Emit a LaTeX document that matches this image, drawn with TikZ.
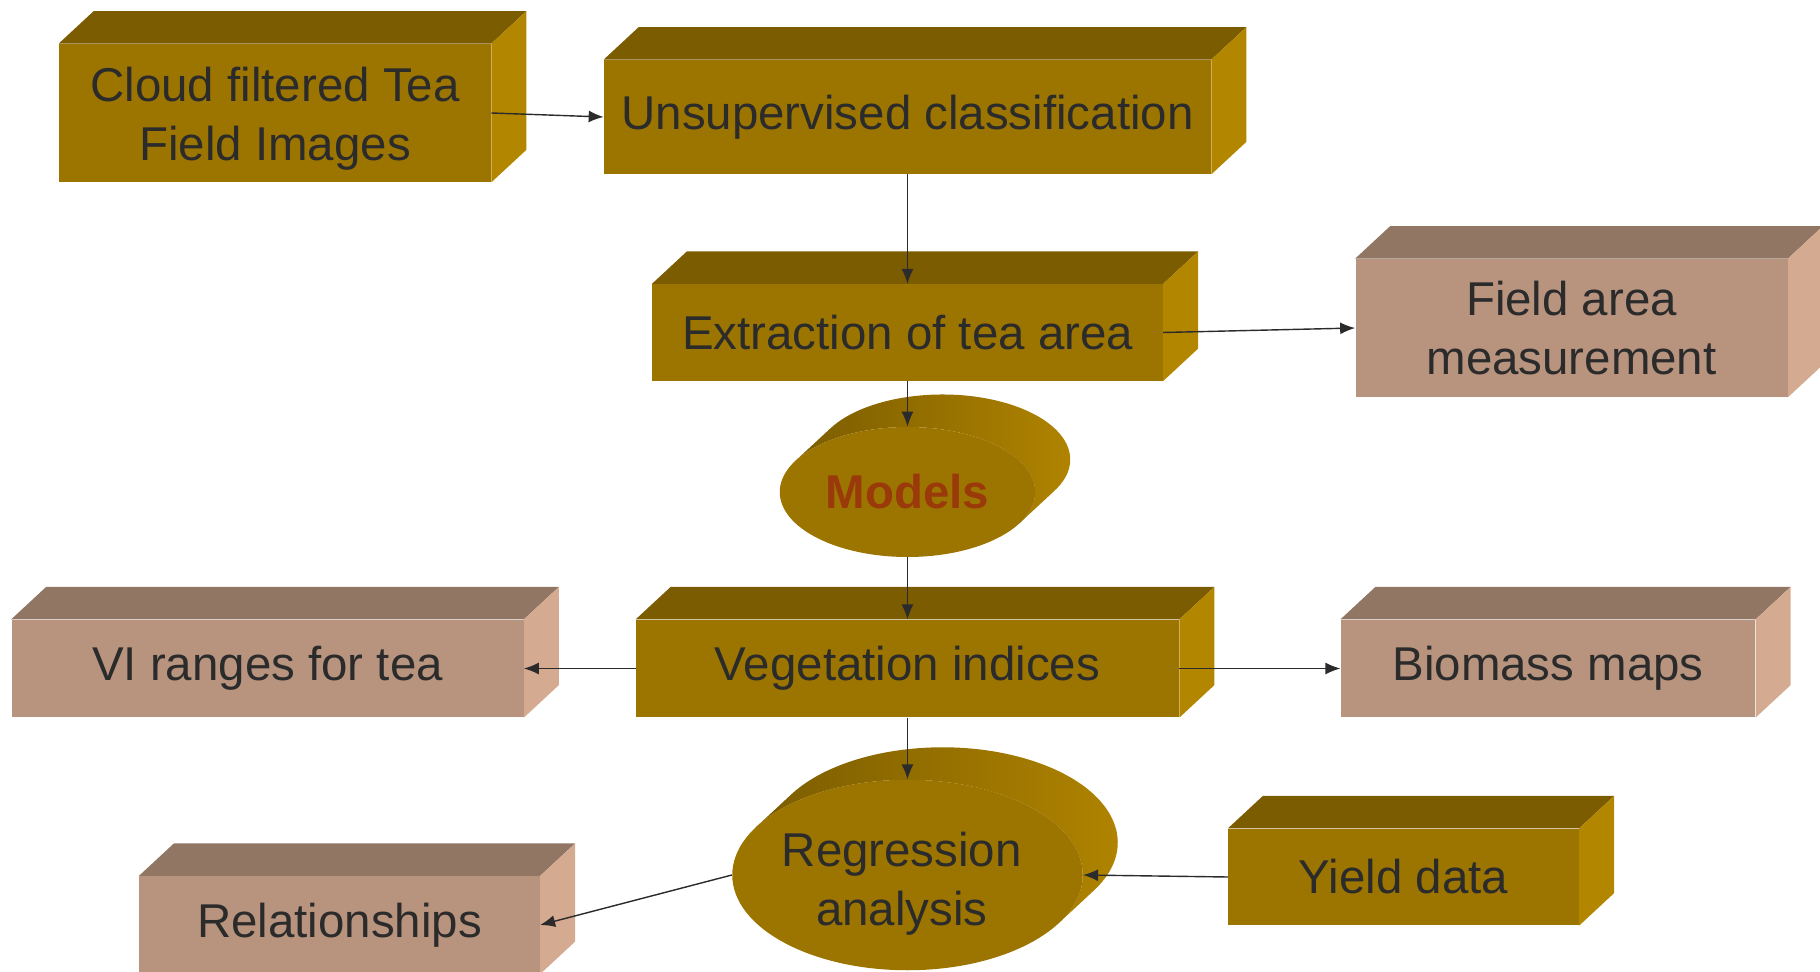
\documentclass[tikz,border=0pt]{standalone}
\usepackage{fontspec}
\setmainfont{Liberation Sans}
\usetikzlibrary{shapes.geometric,arrows.meta,backgrounds}

\definecolor{goldfront}{HTML}{9C7500}
\definecolor{goldtop}{HTML}{7B5C00}
\definecolor{goldside}{HTML}{B38600}
\definecolor{rosefront}{HTML}{B8947F}
\definecolor{rosetop}{HTML}{917664}
\definecolor{roseside}{HTML}{D4AA91}
\definecolor{txt}{HTML}{2B2B2B}
\definecolor{modeltxt}{HTML}{9A3A0A}

% two-line label, moved down and left, taking no width
\newcommand{\lowlines}[3]{\raisebox{-#1}[\height][\depth]{\makebox[0pt]{\hspace*{-#2}\begin{tabular}{@{}c@{}}#3\end{tabular}}}}

\tikzset{
	boxtext/.style={font=\fontsize{27}{33.6}\selectfont, text=txt, align=center, inner sep=0pt},
	goldbox/.style={boxtext, rectangle, fill=goldfront},
	rosebox/.style={boxtext, rectangle, fill=rosefront},
	goldoval/.style={boxtext, ellipse, fill=goldfront},
	link/.style={draw=txt, line width=0.8pt, -{Latex[length=3mm,width=2.4mm]}}
}

\begin{document}
\begin{tikzpicture}
	\useasboundingbox (0,0) rectangle (36.4,19.42);

	% boxes, front faces
	\node[goldbox, minimum width=8.64cm, minimum height=2.76cm] (cloud) at (5.50,17.16) {\lowlines{1.2mm}{0mm}{Cloud filtered Tea\\Field Images}};
	\node[goldbox, minimum width=12.14cm, minimum height=2.28cm] (unsup) at (18.15,17.08) {Unsupervised classification};
	\node[goldbox, minimum width=10.21cm, minimum height=1.93cm] (extract) at (18.15,12.77) {Extraction of tea area};
	\node[rosebox, minimum width=8.64cm, minimum height=2.76cm] (field) at (31.43,12.86) {Field area\\measurement};
	\node[goldoval, minimum width=5.11cm, minimum height=2.6cm] (models) at (18.15,9.58) {\bfseries\color{modeltxt}Models};
	\node[goldbox, minimum width=10.86cm, minimum height=1.95cm] (veg) at (18.15,6.05) {Vegetation indices};
	\node[rosebox, minimum width=10.24cm, minimum height=1.95cm] (vi) at (5.35,6.05) {VI ranges for tea};
	\node[rosebox, minimum width=8.29cm, minimum height=1.95cm] (biomass) at (30.96,6.05) {Biomass maps};
	\node[goldoval, minimum width=7.01cm, minimum height=3.81cm] (reg) at (18.15,1.92) {\lowlines{1.9mm}{2.3mm}{Regression\\analysis}};
	\node[goldbox, minimum width=7.01cm, minimum height=1.93cm] (yield) at (28.07,1.88) {Yield data};
	\node[rosebox, minimum width=8.01cm, minimum height=1.95cm] (rel) at (6.79,0.92) {Relationships};

	% top and side faces
	\begin{scope}[on background layer]
		\foreach \n in {cloud,unsup,extract,veg,yield} {
			\fill[goldtop] (\n.north west) -- ++(0.7,0.65) -- ([shift={(0.7,0.65)}]\n.north east) -- (\n.north east) -- cycle;
			\fill[goldside] (\n.north east) -- ++(0.7,0.65) -- ([shift={(0.7,0.65)}]\n.south east) -- (\n.south east) -- cycle;
		}
		\foreach \n in {field,vi,biomass,rel} {
			\fill[rosetop] (\n.north west) -- ++(0.7,0.65) -- ([shift={(0.7,0.65)}]\n.north east) -- (\n.north east) -- cycle;
			\fill[roseside] (\n.north east) -- ++(0.7,0.65) -- ([shift={(0.7,0.65)}]\n.south east) -- (\n.south east) -- cycle;
		}
		% oval bodies
		\shade[left color=goldtop, right color=goldside] (models.center) ++(151.3:2.554cm and 1.3cm) -- ++(0.7,0.65)
			arc[start angle=151.3, end angle=-28.7, x radius=2.554cm, y radius=1.3cm] -- ++(-0.7,-0.65)
			arc[start angle=-28.7, end angle=151.3, x radius=2.554cm, y radius=1.3cm] -- cycle;
		\shade[left color=goldtop, right color=goldside] (reg.center) ++(149.7:3.505cm and 1.904cm) -- ++(0.7,0.65)
			arc[start angle=149.7, end angle=-30.3, x radius=3.505cm, y radius=1.904cm] -- ++(-0.7,-0.65)
			arc[start angle=-30.3, end angle=149.7, x radius=3.505cm, y radius=1.904cm] -- cycle;
	\end{scope}

	% arrows
	\draw[link] (cloud.east) -- (unsup.west);
	\draw[link] (unsup.south) -- (extract.north);
	\draw[link] (extract.east) -- (field.west);
	\draw[link] (extract.south) -- (models.north);
	\draw[link] (models.south) -- (veg.north);
	\draw[link] (veg.west) -- (vi.east);
	\draw[link] (veg.east) -- (biomass.west);
	\draw[link] (veg.south) -- (reg.north);
	\draw[link] (yield.west) -- (reg.east);
	\draw[link] (reg.west) -- (rel.east);

\end{tikzpicture}
\end{document}
